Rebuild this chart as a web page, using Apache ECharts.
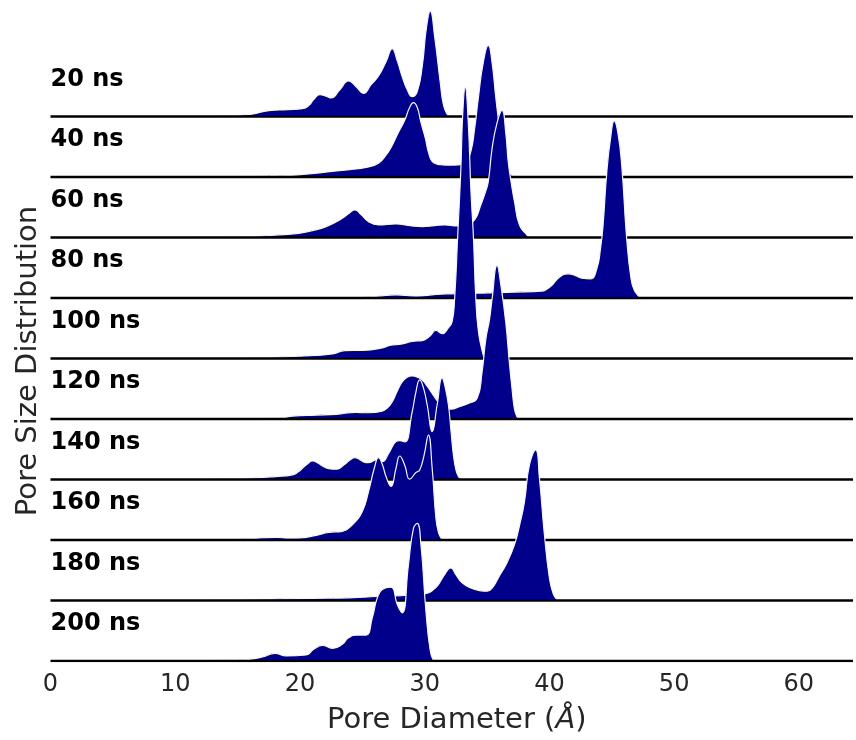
<!DOCTYPE html>
<html>
<head>
<meta charset="utf-8">
<script src="https://cdn.jsdelivr.net/npm/echarts@6/dist/echarts.min.js"></script>
<style>
html,body{margin:0;padding:0;background:#fff;}
#chart{width:856px;height:740px;}
</style>
</head>
<body>
<div id="chart"></div>
<script>
// Row labels (top to bottom)
const rowLabels = ['20 ns','40 ns','60 ns','80 ns','100 ns','120 ns','140 ns','160 ns','180 ns','200 ns'];
// X tick values
const xTicks = [0,10,20,30,40,50,60];

// Pore size distributions: [pore diameter (Å), relative density]
const d20 = [[10.5,0],[13,0.5],[16,2.3],[17.5,6],[19,7],[20.2,8],[20.7,11],[21.1,17],[21.6,22],[22.1,20.5],[22.5,18.7],[23.2,27],[23.9,35.7],[24.5,30],[25.1,23.3],[25.7,32],[26.3,40.7],[26.9,55],[27.4,68],[27.8,56],[28.2,40],[28.6,27],[29.0,20],[29.4,25],[29.8,50],[30.15,90],[30.45,105.7],[30.8,80],[31.25,34],[31.5,12],[31.8,2.3],[32.0,0]];
const d40 = [[8,0],[12,0.3],[16,0.8],[18.6,1.3],[20.5,3],[22.6,5.7],[24,7.5],[25.3,9.7],[26.3,14],[26.9,22],[27.4,32],[27.9,45],[28.4,57],[28.8,70],[29.1,74.7],[29.4,70],[29.7,55],[30.05,39],[30.3,25],[30.6,15.7],[31,13],[31.4,12.3],[32.0,12],[32.7,12.3],[33.3,16],[33.7,25.7],[34.0,48],[34.3,79],[34.7,115],[35.1,132],[35.4,115],[35.7,80],[36.1,40],[36.5,12],[36.9,3],[37.2,0]];
const d60 = [[10.6,0],[13,0.5],[15.9,1],[18,2.5],[19.9,4.3],[21,7],[22.1,11],[23.4,19.3],[24.0,25],[24.4,27.7],[24.9,23],[25.5,16],[26.3,12.7],[27.7,13.7],[28.8,12],[29.8,11],[30.8,12],[31.6,12.7],[32.6,11.7],[33.3,13],[34.0,17.7],[34.5,32.7],[34.85,45],[35.1,56],[35.4,89],[35.8,115],[36.2,127.6],[36.5,105],[36.7,76],[37.0,50],[37.2,36],[37.6,12.6],[38.2,2.6],[38.5,0]];
const d80 = [[24,0],[26.3,2],[27.7,3.3],[29.3,2],[30.9,3.7],[31.9,4.3],[33.5,4.7],[34.6,5],[37.2,6],[39.4,7],[39.8,9],[40.2,12.7],[40.8,21],[41.5,24.3],[42.1,22.5],[42.6,20],[43.3,19.3],[43.8,29.3],[44.1,50],[44.3,72.6],[44.6,126],[44.9,160],[45.2,177.6],[45.5,165],[45.8,132.6],[46.2,59],[46.55,19],[46.8,8],[47.1,2.6],[47.3,0]];
const d100 = [[14,0],[15.9,0.5],[18,1.5],[19.9,2.3],[22.6,4.7],[23.6,8],[25.0,8.3],[26.6,10.7],[27.2,13.3],[28.2,14.7],[29.0,17.3],[29.8,18],[30.4,22.3],[30.9,28.3],[31.4,25],[31.9,30.7],[32.2,37],[32.4,60],[32.65,124],[32.9,190],[33.05,245],[33.25,272],[33.5,235],[33.7,170],[33.9,124],[34.1,60],[34.3,28],[34.6,8],[34.8,0]];
const d120 = [[14.6,0],[17,0.8],[18.6,1.3],[19.4,3],[21.3,4],[22.9,4.7],[24.5,6.7],[25.5,6.3],[26.6,8],[27.0,11],[27.4,17.3],[27.8,28],[28.2,37.3],[28.6,42],[29.0,43.3],[29.4,42],[29.8,39],[30.2,33],[30.6,25.7],[31.1,17],[31.6,12],[32.1,10],[32.8,12.5],[33.5,15.7],[34.2,20.7],[34.6,47],[34.9,80],[35.2,100],[35.4,120],[35.8,154],[36.1,135],[36.5,97],[36.8,55],[37.0,30.7],[37.2,10],[37.4,2.3],[37.6,0]];
const d140 = [[11.9,0],[14,0.6],[15.9,1.3],[18,3],[19.4,4.7],[19.9,8],[20.2,11.3],[20.6,15.5],[21.0,18.7],[21.4,17],[21.8,13.7],[22.3,11],[22.9,10.3],[23.6,15.3],[24.0,19.5],[24.4,22],[24.8,20],[25.3,17],[25.7,17.5],[26.1,19.7],[26.6,18],[27.1,26],[27.7,38],[28.0,39],[28.4,37.7],[29.0,68],[29.3,88],[29.6,100],[29.9,92],[30.2,75],[30.6,48],[31.0,75],[31.4,102],[31.6,95],[31.9,75],[32.1,50],[32.3,25],[32.5,10],[32.7,3.3],[32.9,0]];
const d160 = [[13.3,0],[16,1.5],[18.1,2.7],[18.9,1.8],[19.9,2],[21.3,4.7],[22.3,7.7],[23.4,8.7],[24.2,15.3],[25.0,28.7],[25.5,48.7],[25.96,72],[26.3,82.7],[26.6,76],[26.9,63.7],[27.3,53.7],[27.7,72],[28.0,84.3],[28.4,75],[28.8,61],[29.3,67.7],[29.6,70.3],[29.95,85],[30.3,105.3],[30.6,72],[30.9,22],[31.1,8],[31.3,2],[31.5,0]];
const d180 = [[10.6,0],[14,0.8],[18.6,1.7],[21,2.2],[23.9,2.7],[26.6,4.3],[28.7,5.3],[30.3,7.7],[30.8,12],[31.1,16],[31.6,26],[32.1,32.7],[32.5,26],[33.0,17.7],[33.8,12],[34.4,10],[35.0,9.3],[35.5,14],[35.9,22.7],[36.6,38],[37.2,56],[37.6,75],[38.0,99],[38.4,136],[38.9,151],[39.2,122.7],[39.6,66],[40.0,22.7],[40.3,7],[40.6,1],[40.8,0]];
const d200 = [[10.6,0],[14,0.8],[15.9,1.7],[17.0,4],[18.0,7.7],[18.9,5],[20.5,6],[21.1,11.7],[21.8,15.7],[22.6,12.7],[23.4,16.7],[23.9,23.3],[24.6,26],[25.3,26],[25.8,43.3],[26.2,63.3],[26.6,71.7],[27.3,74],[27.8,56.7],[28.2,48.3],[28.7,96.7],[29.1,133],[29.4,138],[29.7,116.7],[30.1,50],[30.45,10],[30.7,0.7],[30.8,0]];

const rows = [d20,d40,d60,d80,d100,d120,d140,d160,d180,d200];

const X_MAX = 64.34;
const ROW_GAP = 60.67;        // vertical offset between ridges (density units)
const Y_MAX = 663;
const FILL = '#00008B';
const FONT = 'DejaVu Sans';

const chart = echarts.init(document.getElementById('chart'), null, {renderer:'canvas'});

const series = [];
rows.forEach((d, i) => {
  const base = (rows.length - 1 - i) * ROW_GAP;
  series.push({
    type: 'line',
    name: rowLabels[i],
    data: d.map(p => [p[0], p[1] + base]),
    smooth: 0.5,
    symbol: 'none',
    silent: true,
    z: 2 + i * 2,
    lineStyle: {color: '#f4f4ff', width: 1.2},
    areaStyle: {color: FILL, opacity: 1, origin: base}
  });
  series.push({
    type: 'line',
    data: [[0, base], [X_MAX, base]],
    symbol: 'none',
    silent: true,
    z: 3 + i * 2,
    lineStyle: {color: '#000000', width: 2.5}
  });
});

chart.setOption({
  animation: false,
  backgroundColor: '#ffffff',
  grid: {left: 50.5, right: 0, top: 0, bottom: 77, containLabel: false},
  xAxis: {
    type: 'value', min: 0, max: X_MAX, interval: 10,
    axisLine: {show: false}, axisTick: {show: false}, splitLine: {show: false},
    axisLabel: {
      fontSize: 24, fontFamily: FONT, color: '#262626', margin: 12,
      formatter: v => xTicks.indexOf(v) >= 0 ? String(v) : ''
    },
    name: 'Pore Diameter ({i|Å})',
    nameLocation: 'middle',
    nameGap: 45,
    nameTextStyle: {
      fontSize: 29, fontFamily: FONT, color: '#262626', padding: [0, 0, 0, 10],
      rich: {i: {fontSize: 29, fontFamily: FONT, fontStyle: 'italic', color: '#262626'}}
    }
  },
  yAxis: {
    type: 'value', min: 0, max: Y_MAX,
    axisLine: {show: false}, axisTick: {show: false}, splitLine: {show: false},
    axisLabel: {show: false}
  },
  series: series
});

const graphics = [];
rows.forEach((d, i) => {
  const base = (rows.length - 1 - i) * ROW_GAP;
  const p = chart.convertToPixel({xAxisIndex: 0, yAxisIndex: 0}, [0, base]);
  graphics.push({
    type: 'text', x: p[0], y: p[1] - 37, z: 100,
    style: {text: rowLabels[i], font: 'bold 24px "DejaVu Sans"', fill: '#000', textAlign: 'left', textVerticalAlign: 'middle'}
  });
});
graphics.push({
  type: 'text', x: 28, y: 361, rotation: Math.PI / 2, z: 100,
  style: {text: 'Pore Size Distribution', font: '29px "DejaVu Sans"', fill: '#262626', textAlign: 'center', textVerticalAlign: 'middle'}
});
chart.setOption({graphic: graphics});
</script>
</body>
</html>
